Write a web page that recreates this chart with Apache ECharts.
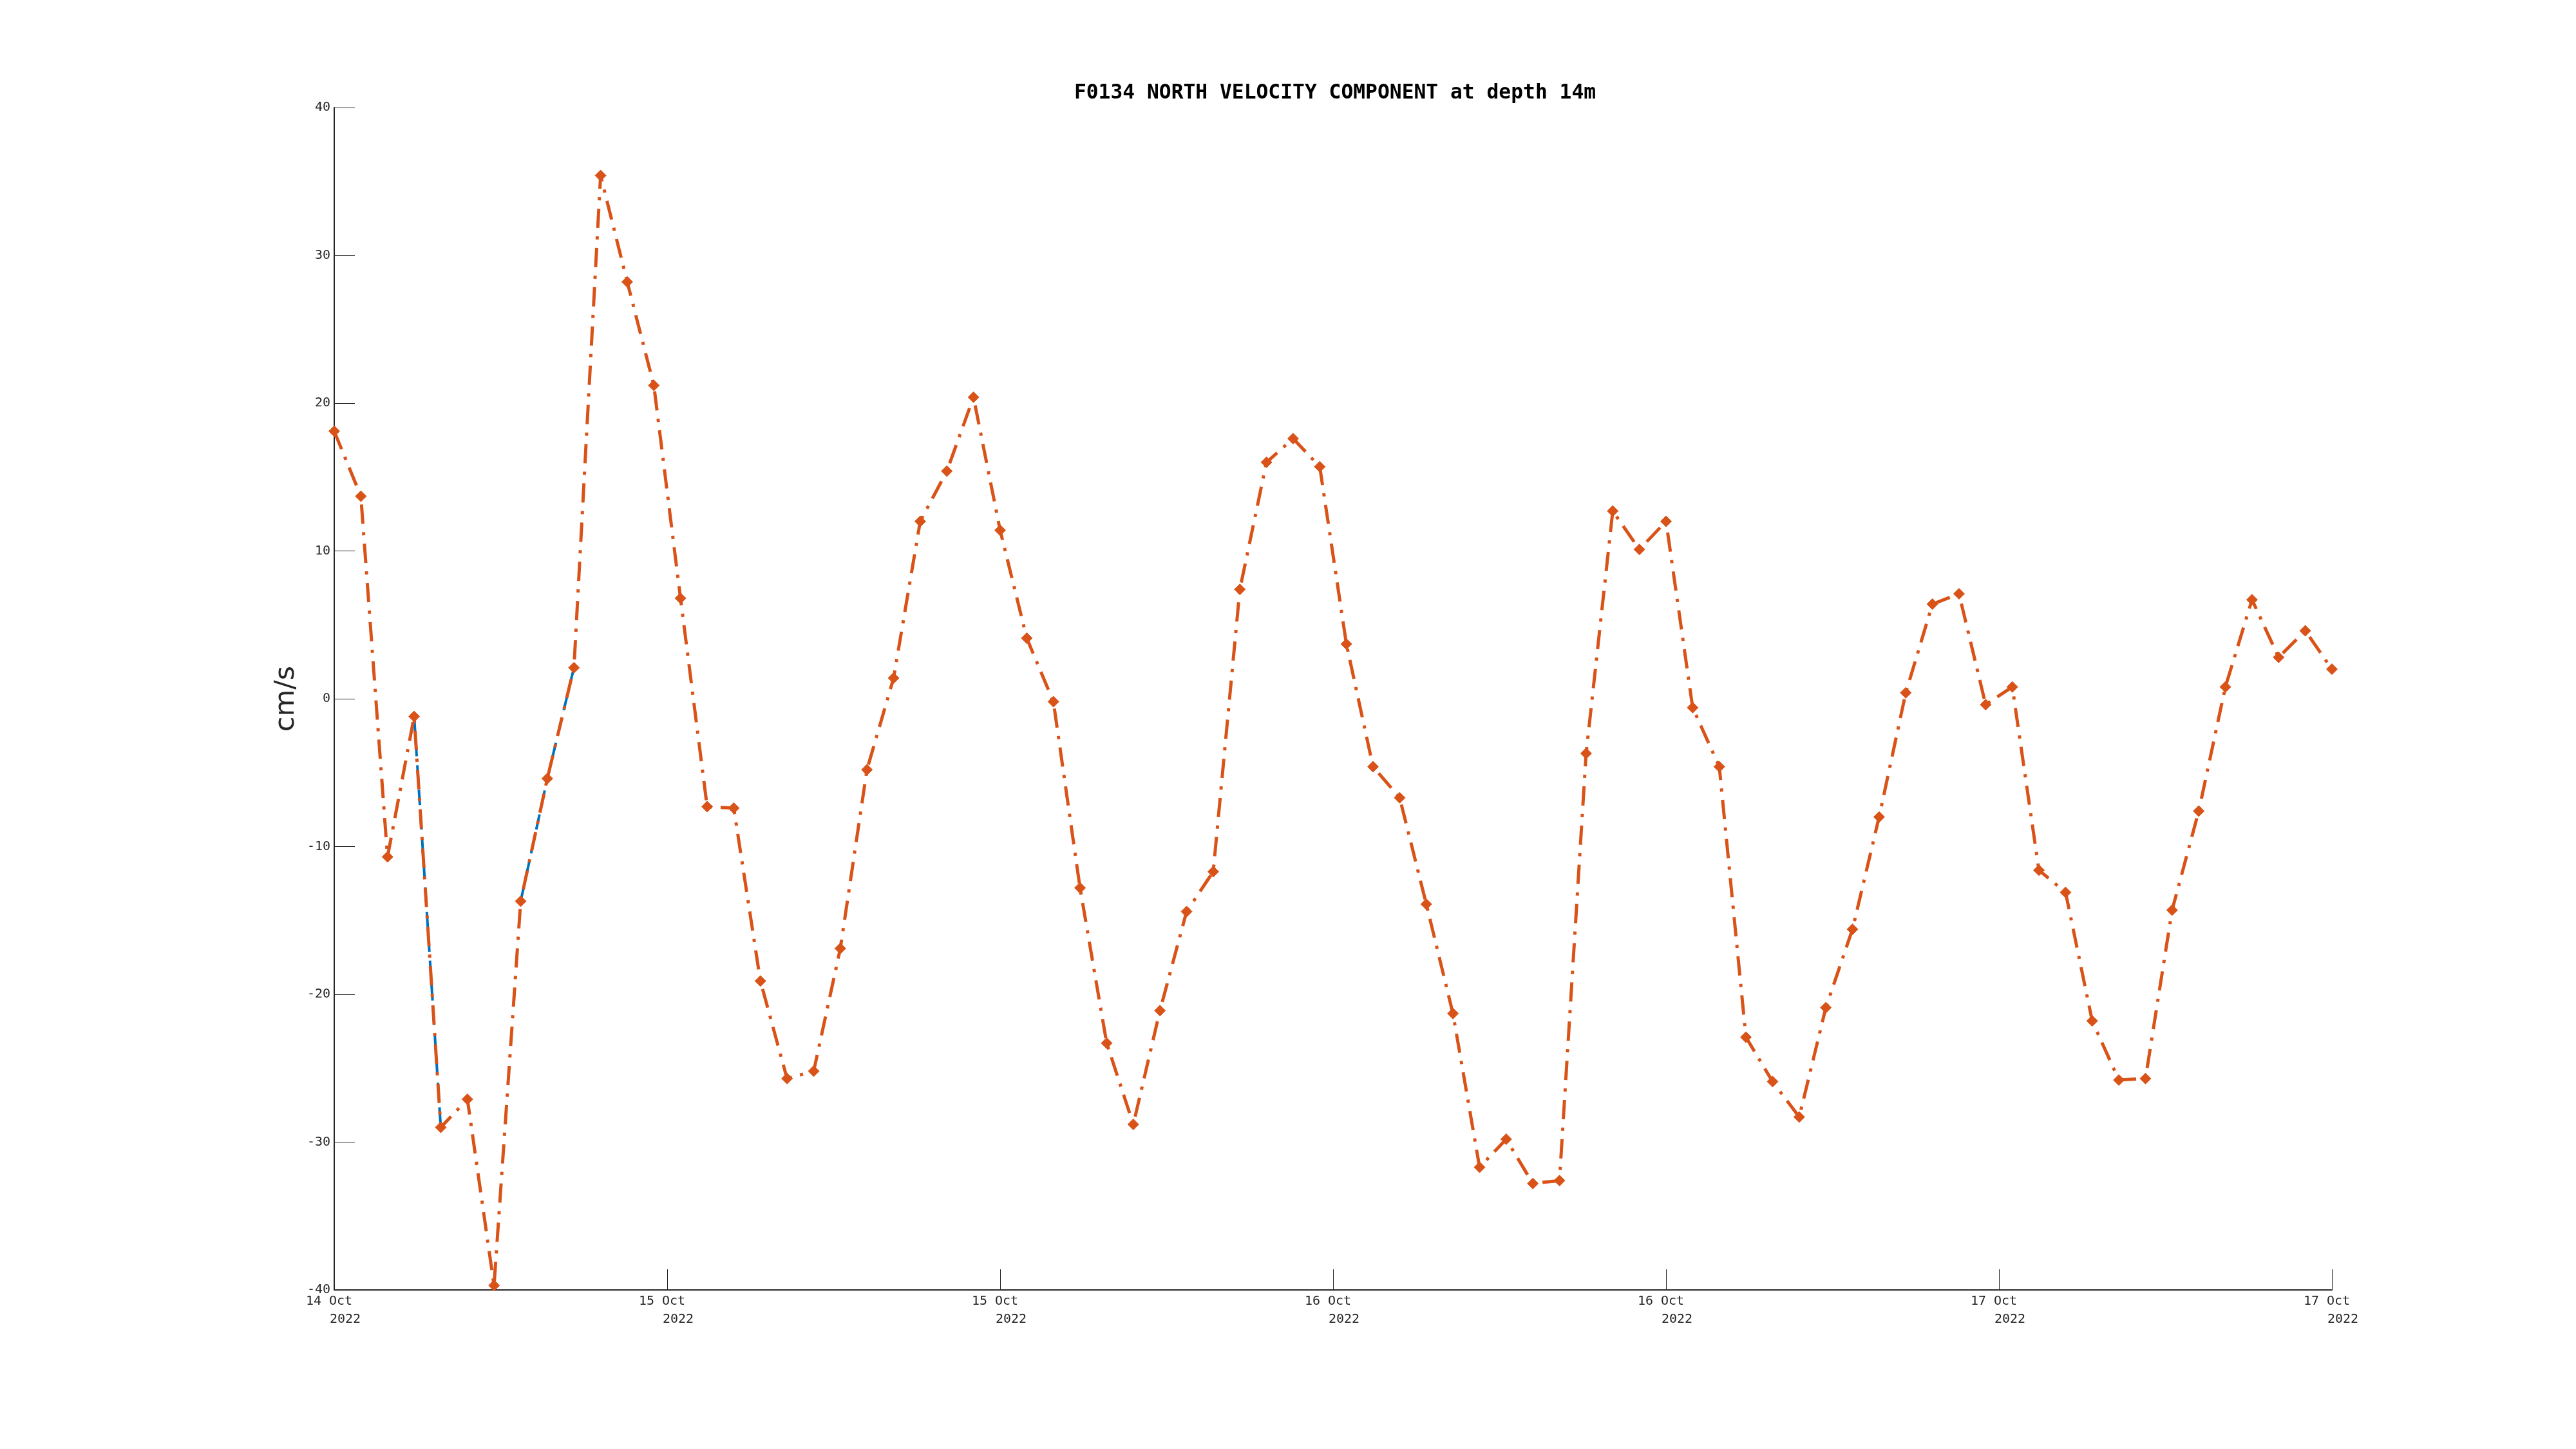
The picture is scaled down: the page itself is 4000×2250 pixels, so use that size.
<!DOCTYPE html>
<html>
<head>
<meta charset="utf-8">
<script src="https://cdn.jsdelivr.net/npm/echarts@6/dist/echarts.min.js"></script>
<style>html,body{margin:0;padding:0;background:#fff}#c{width:4000px;height:2250px}</style>
</head>
<body>
<div id="c"></div>
<script>
// Tick labels at 12-hour spacing (x in sample index units)
const tickLabels = ["14 Oct", "15 Oct", "15 Oct", "16 Oct", "16 Oct", "17 Oct", "17 Oct"];
const tickYear = "2022";
// North velocity (cm/s), 76 samples
const northVel = [18.1, 13.7, -10.7, -1.2, -29.0, -27.1, -39.7, -13.7, -5.4, 2.1,
  35.4, 28.2, 21.2, 6.8, -7.3, -7.4, -19.1, -25.7, -25.2, -16.9,
  -4.8, 1.4, 12.0, 15.4, 20.4, 11.4, 4.1, -0.2, -12.8, -23.3,
  -28.8, -21.1, -14.4, -11.7, 7.4, 16.0, 17.6, 15.7, 3.7, -4.6,
  -6.7, -13.9, -21.3, -31.7, -29.8, -32.8, -32.6, -3.7, 12.7, 10.1,
  12.0, -0.6, -4.6, -22.9, -25.9, -28.3, -20.9, -15.6, -8.0, 0.4,
  6.4, 7.1, -0.4, 0.8, -11.6, -13.1, -21.8, -25.8, -25.7, -14.3,
  -7.6, 0.8, 6.7, 2.8, 4.6, 2.0];
// Underlying raw series (only visible samples)
const rawVel = [null, null, null, -1.2, -29.0, null, null, -13.7, -5.4, 2.1];

const orangeData = northVel.map((v, i) => [i, v]);
const blueData = rawVel.map((v, i) => [i, v]);

const chart = echarts.init(document.getElementById('c'), null, {renderer: 'canvas'});
const mono = 'DejaVu Sans Mono';
chart.setOption({
  animation: false,
  backgroundColor: '#ffffff',
  title: {
    text: 'F0134 NORTH VELOCITY COMPONENT at depth 14m',
    left: 2068, top: 124, textAlign: 'center',
    textStyle: {fontFamily: mono, fontWeight: 'bold', fontSize: 31.3, color: '#000'}
  },
  grid: {left: 519, right: 379, top: 167, bottom: 247, containLabel: false},
  xAxis: {
    type: 'value', min: 0, max: 75, interval: 12.5,
    axisLine: {show: true, onZero: false, lineStyle: {color: '#262626', width: 2}},
    axisTick: {show: true, inside: true, length: 32, lineStyle: {color: '#262626', width: 1}},
    splitLine: {show: false},
    axisLabel: {
      margin: 4,
      formatter: function (v) {
        const k = Math.round(v / 12.5);
        return '{a|' + tickLabels[k] + '}\n{b|' + tickYear + '}';
      },
      rich: {
        a: {fontFamily: mono, fontSize: 20, color: '#262626', lineHeight: 28, padding: [0, 16, 0, 0]},
        b: {fontFamily: mono, fontSize: 20, color: '#262626', lineHeight: 28, padding: [0, 0, 0, 34]}
      }
    }
  },
  yAxis: {
    type: 'value', min: -40, max: 40, interval: 10,
    name: 'cm/s', nameLocation: 'middle', nameGap: 46, nameRotate: 90,
    nameTextStyle: {fontFamily: 'DejaVu Sans', fontSize: 43, color: '#262626'},
    axisLine: {show: true, onZero: false, lineStyle: {color: '#262626', width: 2}},
    axisTick: {show: true, inside: true, length: 32, lineStyle: {color: '#262626', width: 1}},
    splitLine: {show: false},
    axisLabel: {margin: 6, fontFamily: mono, fontSize: 20, color: '#262626'}
  },
  series: [
    {
      type: 'line', data: blueData, connectNulls: false, showSymbol: false, symbol: 'none',
      lineStyle: {color: '#0072BD', width: 4, type: [24, 14]}, z: 2
    },
    {
      type: 'line', data: orangeData, symbol: 'diamond', symbolSize: 17,
      itemStyle: {color: '#D95319', borderColor: '#D95319'},
      lineStyle: {color: '#D95319', width: 5, type: [30, 13, 5, 13]}, z: 3
    }
  ]
});
</script>
</body>
</html>
